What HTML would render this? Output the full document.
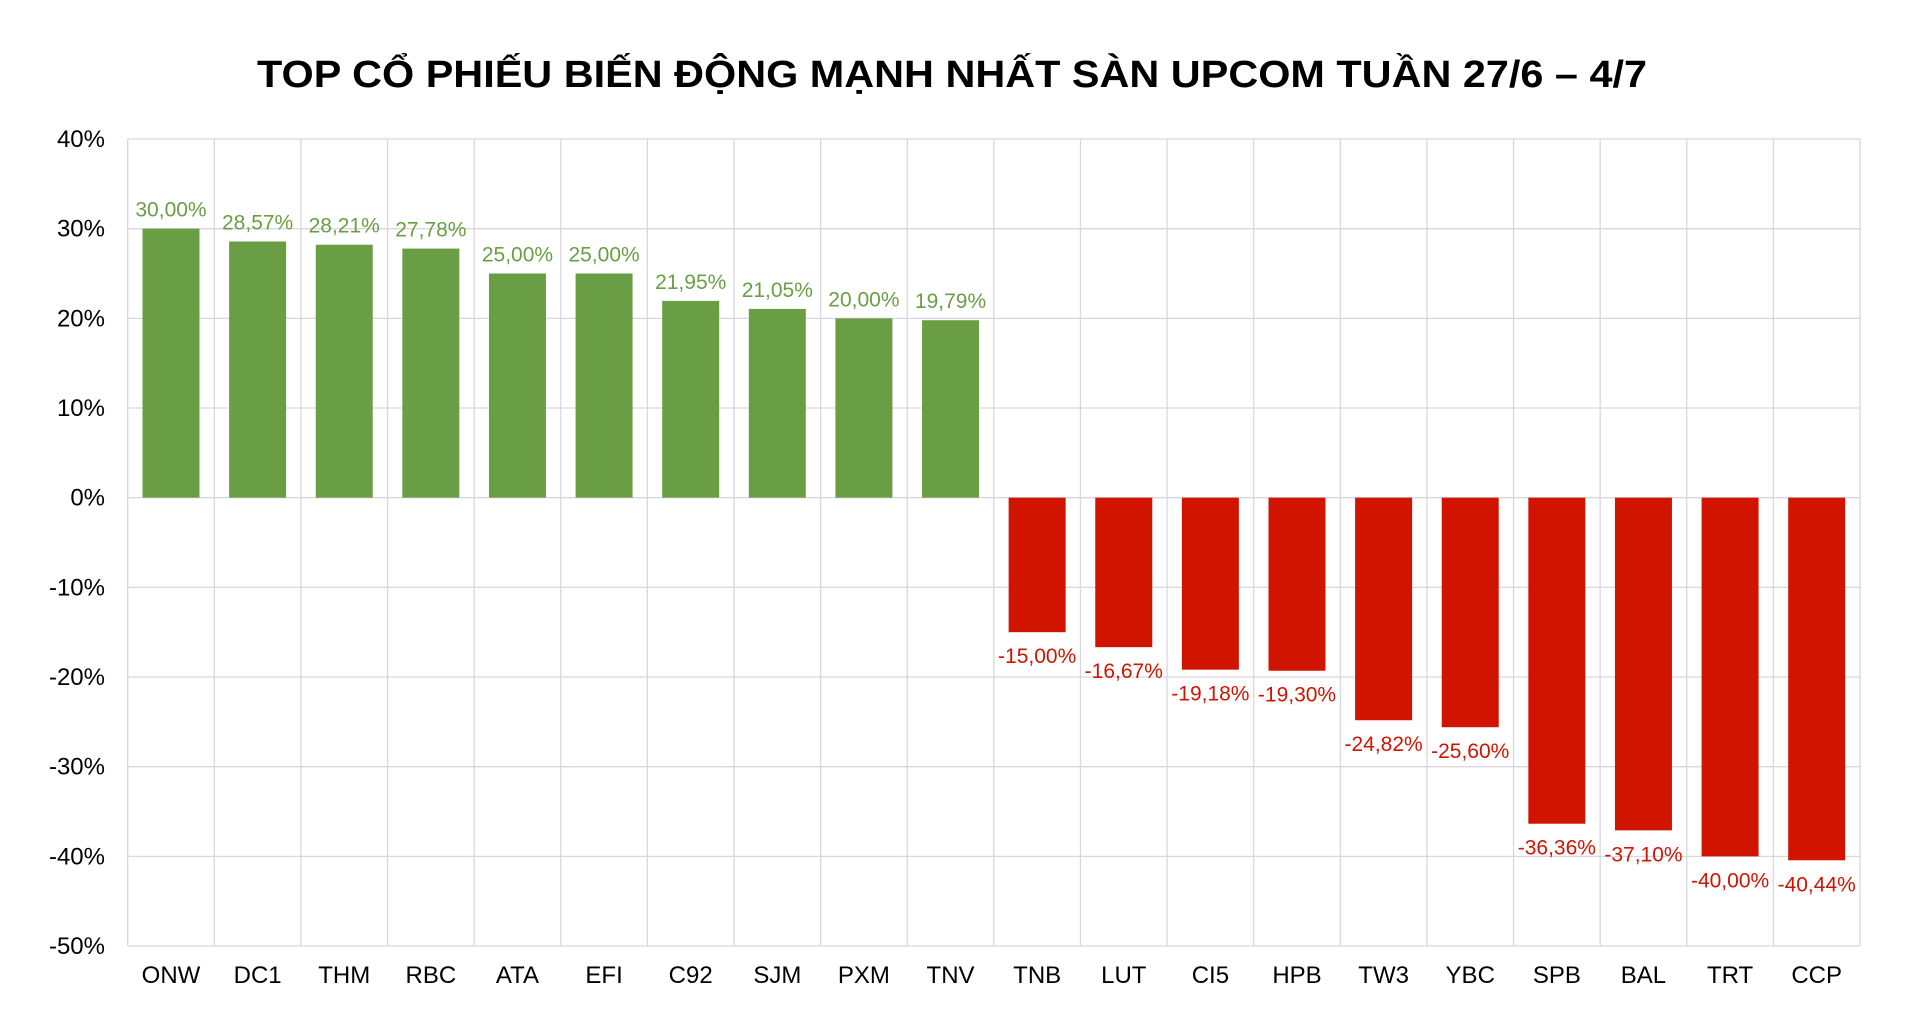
<!DOCTYPE html>
<html><head><meta charset="utf-8"><style>body{margin:0;background:#fff}svg{display:block}</style></head><body>
<svg width="1920" height="1018" xmlns="http://www.w3.org/2000/svg" font-family="Liberation Sans, Arial, sans-serif">
<rect width="1920" height="1018" fill="#fff"/>
<text x="952" y="87" text-anchor="middle" font-size="38" font-weight="bold" fill="#000" textLength="1390" lengthAdjust="spacingAndGlyphs">TOP CỔ PHIẾU BIẾN ĐỘNG MẠNH NHẤT SÀN UPCOM TUẦN 27/6 – 4/7</text>
<g id="g"></g>
</svg>
<script>
const L=127.7,R=1860,T=139,S=89.67,Z=T+4*S,cw=(R-L)/20;
const d=[["ONW",30],["DC1",28.57],["THM",28.21],["RBC",27.78],["ATA",25],["EFI",25],["C92",21.95],["SJM",21.05],["PXM",20],["TNV",19.79],["TNB",-15],["LUT",-16.67],["CI5",-19.18],["HPB",-19.30],["TW3",-24.82],["YBC",-25.60],["SPB",-36.36],["BAL",-37.10],["TRT",-40],["CCP",-40.44]];
let s='';
for(let i=0;i<10;i++){const y=T+i*S;s+=`<line x1="${L}" x2="${R}" y1="${y}" y2="${y}" stroke="#d9d6de" stroke-width="1.3"/>`;
s+=`<text x="105" y="${y+8}" text-anchor="end" font-size="24" fill="#000">${40-i*10}%</text>`;}
for(let i=0;i<=20;i++){const x=L+i*cw;s+=`<line x1="${x}" x2="${x}" y1="${T}" y2="${T+9*S}" stroke="#d9d6de" stroke-width="1.3"/>`;}
d.forEach((v,i)=>{const x=L+i*cw+14.8,cx=L+(i+.5)*cw,y=Z-v[1]/10*S;const pos=v[1]>0;const c=pos?'#6a9e45':'#d11400';
const lab=v[1].toFixed(2).replace('.',',')+'%';
s+=`<rect x="${x}" y="${pos?y:Z}" width="57" height="${Math.abs(y-Z)}" fill="${c}"/>`;
s+=`<text x="${cx}" y="${pos?y-12:y+31}" text-anchor="middle" font-size="21" fill="${c}">${lab}</text>`;
s+=`<text x="${cx}" y="983" text-anchor="middle" font-size="24" fill="#000">${v[0]}</text>`;});
document.getElementById('g').innerHTML=s;
</script>
</body></html>
